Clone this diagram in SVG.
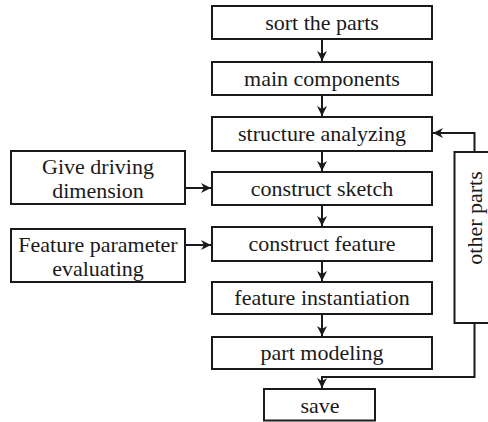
<svg xmlns="http://www.w3.org/2000/svg" width="488" height="422" viewBox="0 0 488 422">
<style>
.box{fill:#fff;stroke:#1a1a1a;stroke-width:2}
.t{font-size:22px;fill:#1a1a1a;text-anchor:middle}
.c{fill:none;stroke:#1a1a1a;stroke-width:2;marker-end:url(#ah)}
</style>
<defs>
<marker id="ah" viewBox="0 0 10 10" refX="10" refY="5" markerWidth="5" markerHeight="5" orient="auto" markerUnits="strokeWidth">
<path d="M0,0 L10,5 L0,10 L3,5 Z" fill="#1a1a1a"/>
</marker>
</defs>
<rect width="488" height="422" fill="#fff"/>
<g font-family="Liberation Serif, Tinos, Times New Roman, Times, Nimbus Roman, FreeSerif, Noto Serif, DejaVu Serif, serif">
<g id="sort"><rect class="box" x="212" y="6" width="220" height="33"/><text class="t" x="322" y="30">sort the parts</text></g>
<g id="main"><rect class="box" x="212" y="62" width="220" height="33"/><text class="t" x="322" y="86">main components</text></g>
<g id="structure"><rect class="box" x="212" y="117" width="220" height="34"/><text class="t" x="322" y="141">structure analyzing</text></g>
<g id="sketch"><rect class="box" x="212" y="172" width="220" height="33"/><text class="t" x="322" y="196">construct sketch</text></g>
<g id="feature"><rect class="box" x="212" y="227" width="220" height="34"/><text class="t" x="322" y="251">construct feature</text></g>
<g id="instantiation"><rect class="box" x="212" y="282" width="220" height="32"/><text class="t" x="322" y="305">feature instantiation</text></g>
<g id="modeling"><rect class="box" x="212" y="337" width="220" height="32"/><text class="t" x="322" y="360">part modeling</text></g>
<g id="save"><rect class="box" x="264" y="389" width="111" height="31.5"/><text class="t" x="320" y="413">save</text></g>
<g id="driving"><rect class="box" x="11" y="151" width="174" height="53"/><text class="t" x="98" y="174">Give driving</text><text class="t" x="98" y="198">dimension</text></g>
<g id="param"><rect class="box" x="11" y="229" width="174" height="53"/><text class="t" x="98" y="252">Feature parameter</text><text class="t" x="98" y="276">evaluating</text></g>
<g id="other"><rect class="box" x="454.5" y="152" width="40" height="171"/><text class="t" transform="translate(482,218) rotate(-90)">other parts</text></g>
</g>
<g id="connectors">
<path class="c" d="M322,39 V61"/>
<path class="c" d="M322,95 V116"/>
<path class="c" d="M322,151 V171"/>
<path class="c" d="M322,205 V226"/>
<path class="c" d="M322,261 V281"/>
<path class="c" d="M322,314 V336"/>
<path class="c" d="M185,188 H211"/>
<path class="c" d="M185,245 H211"/>
<path class="c" d="M474.5,152 V133 H433"/>
<path class="c" d="M474.5,323 V377 H322 V388"/>
</g>
</svg>
